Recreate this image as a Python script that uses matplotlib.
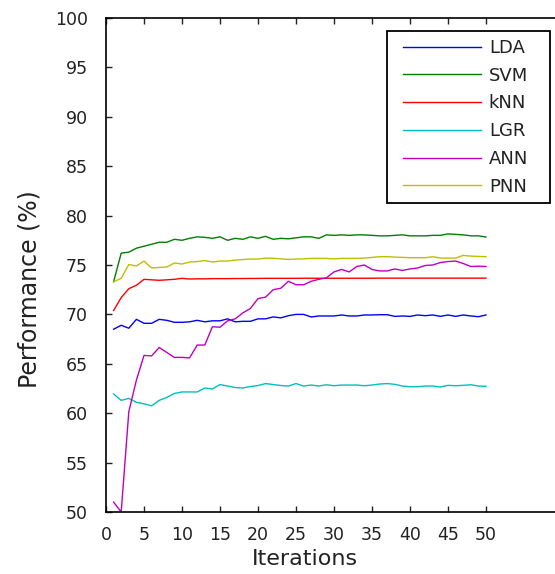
import numpy as np
import matplotlib
matplotlib.use("Agg")
import matplotlib.pyplot as plt
from matplotlib.patches import Rectangle

iterations = np.arange(1, 51)

lda = [68.5, 68.9, 68.6, 69.5, 69.1, 69.1, 69.5, 69.4, 69.2, 69.2,
       69.25, 69.4, 69.25, 69.35, 69.35, 69.55, 69.25, 69.3, 69.3, 69.55,
       69.55, 69.75, 69.65, 69.87, 70.0, 70.0, 69.74, 69.84, 69.84, 69.84,
       69.94, 69.84, 69.84, 69.94, 69.94, 69.97, 69.97, 69.8, 69.84, 69.8,
       69.94, 69.87, 69.94, 69.8, 69.94, 69.8, 69.94, 69.84, 69.77, 69.94]

svm = [73.3, 76.2, 76.3, 76.7, 76.9, 77.1, 77.3, 77.3, 77.6, 77.5,
       77.7, 77.85, 77.8, 77.7, 77.85, 77.5, 77.7, 77.6, 77.85, 77.7,
       77.9, 77.6, 77.7, 77.65, 77.75, 77.85, 77.85, 77.7, 78.05, 78.0,
       78.05, 78.0, 78.05, 78.05, 78.0, 77.95, 77.95, 78.0, 78.05, 77.95,
       77.95, 77.95, 78.0, 78.0, 78.15, 78.1, 78.05, 77.95, 77.95, 77.83]

knn = [70.4, 71.7, 72.6, 72.95, 73.55, 73.5, 73.45, 73.5, 73.55, 73.65,
       73.58, 73.6, 73.6, 73.62, 73.62, 73.62, 73.63, 73.63, 73.64, 73.64,
       73.65, 73.65, 73.65, 73.65, 73.65, 73.66, 73.66, 73.66, 73.66, 73.66,
       73.66, 73.66, 73.66, 73.66, 73.66, 73.67, 73.67, 73.67, 73.67, 73.67,
       73.67, 73.67, 73.67, 73.67, 73.67, 73.67, 73.67, 73.67, 73.67, 73.67]

lgr = [61.95, 61.3, 61.5, 61.1, 60.95, 60.75, 61.3, 61.6, 62.0, 62.15,
       62.15, 62.15, 62.55, 62.45, 62.9, 62.75, 62.6, 62.55, 62.7, 62.8,
       63.0, 62.9, 62.8, 62.75, 63.0, 62.75, 62.85, 62.75, 62.88, 62.78,
       62.85, 62.85, 62.85, 62.78, 62.85, 62.95, 63.0, 62.92, 62.75, 62.68,
       62.68, 62.75, 62.75, 62.65, 62.82, 62.78, 62.82, 62.88, 62.75, 62.72]

ann = [51.0, 50.0, 60.15, 63.35, 65.85, 65.8, 66.65, 66.15, 65.65, 65.65,
       65.6, 66.9, 66.9, 68.75, 68.7, 69.35, 69.55, 70.15, 70.6, 71.6,
       71.75, 72.5, 72.65, 73.35, 73.0, 73.0, 73.35, 73.55, 73.7, 74.3,
       74.55, 74.3, 74.85, 75.0, 74.55, 74.4, 74.4, 74.6, 74.45, 74.6,
       74.7, 74.95, 75.0, 75.25, 75.35, 75.4, 75.15, 74.85, 74.88, 74.85]

pnn = [73.3, 73.65, 75.05, 74.9, 75.4, 74.7, 74.75, 74.8, 75.2, 75.1,
       75.3, 75.35, 75.45, 75.3, 75.4, 75.4, 75.5, 75.55, 75.6, 75.6,
       75.7, 75.68, 75.62, 75.57, 75.6, 75.62, 75.67, 75.67, 75.67, 75.62,
       75.67, 75.67, 75.67, 75.7, 75.77, 75.84, 75.84, 75.8, 75.77, 75.74,
       75.74, 75.74, 75.84, 75.7, 75.7, 75.7, 75.97, 75.9, 75.87, 75.84]

series_names = ["LDA", "SVM", "kNN", "LGR", "ANN", "PNN"]
series_values = [lda, svm, knn, lgr, ann, pnn]
series_colors = ["b", "g", "r", "c", "m", "y"]

x_ticks = [0, 5, 10, 15, 20, 25, 30, 35, 40, 45, 50]
y_ticks = [50, 55, 60, 65, 70, 75, 80, 85, 90, 95, 100]

W, H = 555, 574
fig = plt.figure(figsize=(W / 100, H / 100), dpi=100)
fig.patch.set_facecolor("white")

# axes box: left 106px, top 18px, bottom 512px; right side runs past the edge
ax = fig.add_axes([106 / W, (H - 512) / H, 456 / W, 494 / H])

for name, vals, col in zip(series_names, series_values, series_colors):
    ax.plot(iterations, vals, color=col, lw=1.0, label=name)

ax.set_xlim(0, 60)
ax.set_ylim(50, 100)
ax.set_xticks(x_ticks)
ax.set_yticks(y_ticks)
ax.tick_params(direction="in", length=4, width=1.0, top=True, right=True,
               labelsize=12.5, colors="#222222")
ax.tick_params(axis="y", pad=13)
ax.tick_params(axis="x", pad=10)
for s in ax.spines.values():
    s.set_linewidth(1.2)

ax.set_xlabel("Iterations", fontsize=16, color="#222222")
ax.xaxis.set_label_coords((305 - 106) / 456, (512 - 549) / 494)
ax.set_ylabel("Performance (%)", fontsize=17, color="#222222")
ax.yaxis.set_label_coords((42 - 106) / 456, (512 - 289) / 494)

# legend entries without their own frame; box drawn separately
leg = fig.legend(loc="upper left", bbox_to_anchor=(403 / W, 1 - 39 / H),
                 bbox_transform=fig.transFigure, frameon=False, borderpad=0,
                 borderaxespad=0, handlelength=4.3, handletextpad=0.45,
                 labelspacing=0.54, fontsize=13)
for t in leg.get_texts():
    t.set_color("#222222")
for line in leg.get_lines():
    line.set_linewidth(1.0)

fig.patches.append(Rectangle((387 / W, 1 - 203 / H), (550 - 387) / W, (203 - 31) / H,
                             transform=fig.transFigure, fill=False,
                             edgecolor="black", linewidth=1.3, zorder=5))

fig.savefig("out.png", dpi=100)
